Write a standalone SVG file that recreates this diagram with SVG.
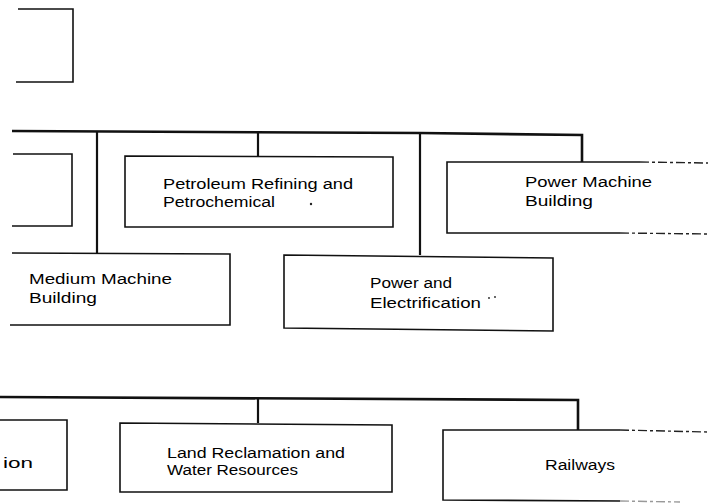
<svg xmlns="http://www.w3.org/2000/svg" width="708" height="504" viewBox="0 0 708 504">
<style>
.box{fill:none;stroke:#111;stroke-width:1.6;stroke-linejoin:miter}
.dash{fill:none;stroke:#222;stroke-width:1.4;stroke-dasharray:9 3 3 3}
.bus{fill:none;stroke:#111;stroke-width:2.6}
.drop{fill:none;stroke:#111;stroke-width:2.2}
text{font-family:"Liberation Sans",Arial,sans-serif;font-size:14px;fill:#000}
.spk{fill:#222}
</style>
<rect width="708" height="504" fill="#fff"/>
<g id="connectors">
  <path class="bus" d="M12,131 L420,133 L582,135 L582,162"/>
  <path class="drop" d="M97,131 L97,253"/>
  <path class="drop" d="M258,132 L258,156"/>
  <path class="drop" d="M420,133 L420,255"/>
  <path class="bus" d="M0,397 L578,400 L578,430"/>
  <path class="drop" d="M258,398 L258,423"/>
</g>
<g id="node-top">
  <path class="box" d="M18,9 L73,9 L73,82 L16,82"/>
</g>
<g id="node-row2-left">
  <path class="box" d="M13,154 L72,154 L72,226 L12,226"/>
</g>
<g id="node-petroleum">
  <path class="box" d="M125,156 L393,157 L393,227 L125,227 Z"/>
  <text x="163" y="189" textLength="190" lengthAdjust="spacingAndGlyphs">Petroleum Refining and</text>
  <text x="163" y="207" textLength="112" lengthAdjust="spacingAndGlyphs">Petrochemical</text>
  <circle class="spk" cx="311" cy="204" r="1.2"/>
</g>
<g id="node-power-machine">
  <path class="box" d="M640,162 L447,162 L447,233 L620,233"/>
  <path class="dash" d="M640,162 L708,163"/>
  <path class="dash" d="M620,233 L708,234"/>
  <text x="525" y="187" textLength="127" lengthAdjust="spacingAndGlyphs">Power Machine</text>
  <text x="525" y="206" textLength="68" lengthAdjust="spacingAndGlyphs">Building</text>
</g>
<g id="node-medium-machine">
  <path class="box" d="M12,253 L230,254 L230,325 L10,325"/>
  <text x="29" y="284" textLength="143" lengthAdjust="spacingAndGlyphs">Medium Machine</text>
  <text x="29" y="303" textLength="68" lengthAdjust="spacingAndGlyphs">Building</text>
</g>
<g id="node-power-electrification">
  <path class="box" d="M284,255 L553,258 L553,331 L284,328 Z"/>
  <text x="370" y="288" textLength="82" lengthAdjust="spacingAndGlyphs">Power and</text>
  <text x="370" y="308" textLength="111" lengthAdjust="spacingAndGlyphs">Electrification</text>
  <circle class="spk" cx="489" cy="298" r="0.9"/>
  <circle class="spk" cx="495" cy="297" r="0.9"/>
</g>
<g id="node-row3-left">
  <path class="box" d="M0,420 L67,420 L67,490 L0,490"/>
  <text x="3" y="468" textLength="30" lengthAdjust="spacingAndGlyphs">ion</text>
</g>
<g id="node-land-reclamation">
  <path class="box" d="M120,423 L392,425 L392,492 L120,492 Z"/>
  <text x="167" y="458" textLength="178" lengthAdjust="spacingAndGlyphs">Land Reclamation and</text>
  <text x="167" y="475" textLength="131" lengthAdjust="spacingAndGlyphs">Water Resources</text>
</g>
<g id="node-railways">
  <path class="box" d="M620,430 L443,430 L443,500 L620,501"/>
  <path class="dash" d="M620,430 L708,432"/>
  <path class="dash" d="M620,501 L680,502" style="stroke:#999"/>
  <text x="545" y="470" textLength="70" lengthAdjust="spacingAndGlyphs">Railways</text>
</g>
</svg>
